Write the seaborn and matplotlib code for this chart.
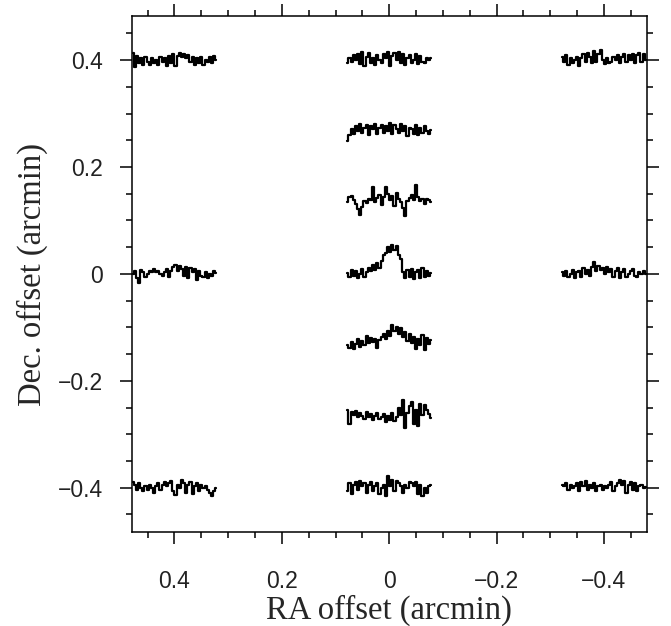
import matplotlib
matplotlib.use("Agg")
import matplotlib.pyplot as plt
import seaborn as sns
import pandas as pd
import numpy as np

# posiciones de los espectros (arcmin)
ra_pos = [0.4, 0.0, -0.4, 0.0, 0.0, 0.4, 0.0, -0.4, 0.0, 0.0, 0.4, 0.0, -0.4]
dec_pos = [0.4, 0.4, 0.4, 0.267, 0.133, 0.0, 0.0, 0.0, -0.133, -0.267, -0.4, -0.4, -0.4]

# espectros (intensidad, unidades arbitrarias)
spec_tl = [7, -7, 4, -3, 2, -5, 3, -2, -5, 2, -3, 0, -5, 3, -2, 2, -6, 4, -3, 6,
           -6, 4, 7, 3, 6, 2, 5, -2, 3, -5, 2, -3, 3, -5, 0, -2, 3, -3, 4, 0]
spec_tc = [-3, 2, -2, 5, 0, 6, -4, 8, -6, 3, 7, -3, 2, -5, 5, 0, -3, 6, 2, 8,
           -6, 4, 7, 0, 8, -3, 6, -5, 2, 5, -3, 0, 6, -4, 4, -2, -3, 2, 0, 2]
spec_tr = [3, -2, 5, -5, 2, -3, 0, 3, -6, 2, 6, -2, 7, 3, -3, 9, -2, 6, 10, 0,
           -4, 2, -3, -2, 3, 0, 5, -3, 3, 6, -2, 5, 0, 6, -3, 5, 7, -2, 6, 0]
spec_r2 = [-10, -4, 2, -3, 5, 0, 7, -2, 3, 6, -4, 5, 2, 7, -3, 3, 6, -2, 5, 0,
           8, -3, 6, 2, -2, 7, 0, 5, -5, 3, 2, -3, 6, -4, 3, -2, 5, 0, -3, 1]
spec_r3 = [1, 6, 7, 3, -1, -6, -12, -4, 2, 0, 4, 3, 16, 1, 5, 8, -2, 6, 16, 9,
           3, 7, -3, 10, 4, 1, -5, -13, 2, 5, 8, 3, 18, 6, 2, 4, -1, 4, 3, 1]
spec_ml = [0, 3, -4, -9, 4, 2, -3, 0, 3, 2, 5, 2, 3, 0, -2, 2, 5, -3, 3, 7,
           9, 3, 8, 5, -2, 7, -4, 6, 2, 5, -6, 3, -2, -3, 2, -4, 0, -2, 3, 1]
spec_c = [1, -3, 4, -2, 3, -4, 0, 5, -3, 2, 6, 3, 9, 4, 11, 6, 13, 19, 21, 27,
          22, 29, 24, 28, 19, 15, 2, -4, 4, -3, 5, -5, 2, 4, -4, 6, -3, 3, -2, 1]
spec_mr = [2, -2, 3, -3, 0, 4, -4, 2, 3, -3, 6, 0, 4, -2, 7, 12, 3, 8, 4, 6,
           0, 7, 2, 5, -3, 3, 6, -4, 2, 5, -3, 0, 3, 5, -2, -3, 2, 0, 3, 0]
spec_r5 = [0, -3, 3, -4, 1, 6, -2, 4, 0, 9, 2, 7, 3, 6, -3, 5, 8, 11, 6, 14,
           9, 20, 14, 18, 11, 17, 8, 13, 4, 11, 2, 8, -4, 6, 0, 10, -5, 7, 1, 5]
spec_r6 = [7, -7, 5, 2, 6, 0, 4, 1, -2, 5, 0, 3, -3, 1, 4, -2, 0, 3, -5, 1,
           -3, 4, -4, 0, 9, 2, 17, -11, 4, 11, 15, -7, 7, -9, 13, 2, 12, 7, 3, -1]
spec_bl = [6, 3, -2, 5, 0, -3, 2, -2, 3, 0, -5, 2, 5, -2, 3, 6, 2, 5, 7, -3,
           -7, 3, 0, 8, 5, -5, 3, 6, -6, 2, 5, -3, 3, 0, 2, -2, -5, -8, -3, 0]
spec_bc = [-3, 5, -6, 3, 6, -2, 7, 2, 5, -5, 3, 6, -3, 2, 5, -6, 0, 3, -8, 12,
           2, 8, -3, 7, 5, 2, -5, 3, 0, 6, 5, 2, 6, -6, 3, -8, 0, -5, 2, 3]
spec_br = [3, 2, 5, -2, 3, 0, 2, 5, -3, 6, 2, 7, -2, 3, 0, 5, -3, 2, 3, -2,
           2, 0, 3, 6, -3, 2, 5, 8, 3, 7, -5, 3, 6, -2, 5, -3, 2, 3, 0, 1]

espectros = [spec_tl, spec_tc, spec_tr, spec_r2, spec_r3, spec_ml, spec_c,
             spec_mr, spec_r5, spec_r6, spec_bl, spec_bc, spec_br]

ticks = [0.4, 0.2, 0.0, -0.2, -0.4]
tick_labels = ['0.4', '0.2', '0', '\u22120.2', '\u22120.4']

ancho = 0.078      # media anchura de cada espectro en arcmin
escala = 0.00187   # arcmin por unidad de intensidad

filas = []
for k, (ra, dec, s) in enumerate(zip(ra_pos, dec_pos, espectros)):
    n = len(s)
    xs = ra + ancho * (1 - 2 * np.arange(n) / (n - 1))
    for x, v in zip(xs, s):
        filas.append({'spec': k, 'x': x, 'y': dec + escala * v})
df = pd.DataFrame(filas)

sns.set_style('ticks')
fig = plt.figure(figsize=(6.71, 6.26), dpi=100)
ax = fig.add_axes([0.196, 0.150, 0.768, 0.824])

sns.lineplot(data=df, x='x', y='y', units='spec', estimator=None, sort=False,
             color='black', lw=1.6, drawstyle='steps-mid', ax=ax)

ax.set_xlim(0.48, -0.48)
ax.set_ylim(-0.483, 0.482)
ax.set_xticks(ticks)
ax.set_xticklabels(tick_labels)
ax.set_yticks(ticks)
ax.set_yticklabels(tick_labels)
ax.set_xticks(np.arange(-0.45, 0.46, 0.05), minor=True)
ax.set_yticks(np.arange(-0.45, 0.46, 0.05), minor=True)

for sp in ax.spines.values():
    sp.set_visible(True)
    sp.set_linewidth(1.1)
    sp.set_color('black')

ax.tick_params(which='both', direction='out', top=True, right=True,
               color='black', width=1.1)
ax.tick_params(which='major', length=8.6)
ax.tick_params(which='minor', length=4.3)
ax.tick_params(axis='x', which='major', pad=19)
ax.tick_params(axis='y', which='major', pad=12)
for lab in ax.get_xticklabels() + ax.get_yticklabels():
    lab.set_fontfamily('Liberation Sans')
    lab.set_fontsize(16.5)
    lab.set_color('#222222')

ax.set_xlabel('RA offset (arcmin)', family='Liberation Serif', fontsize=23.5, labelpad=1)
ax.set_ylabel('Dec. offset (arcmin)', family='Liberation Serif', fontsize=23.5, labelpad=7)

fig.savefig('out.png', dpi=100)
